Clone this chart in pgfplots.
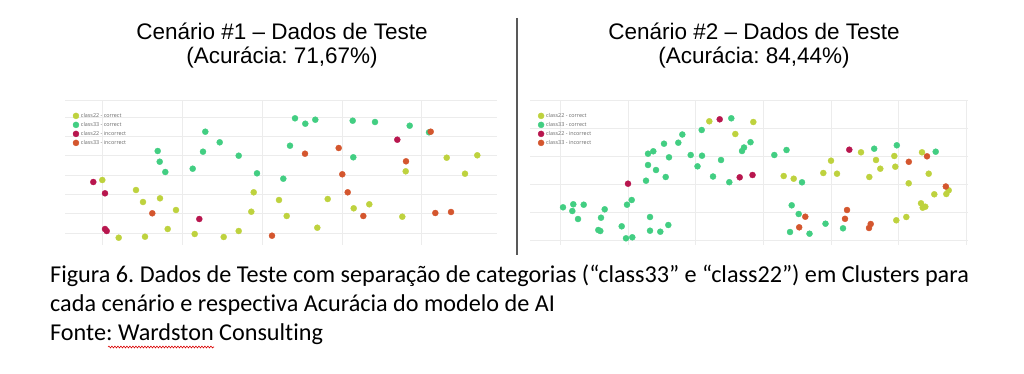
\documentclass[border=0pt]{standalone}
\usepackage{pgfplots}
\pgfplotsset{compat=1.18}
\usepackage{fontspec}
\setmainfont{Liberation Sans}
\newfontfamily\capfont[Ligatures=NoCommon]{Carlito}
\newfontfamily\legfont{Open Sans}
\usetikzlibrary{decorations.pathmorphing}
\frenchspacing
\definecolor{cA}{RGB}{190,210,62}
\definecolor{cB}{RGB}{66,206,130}
\definecolor{cC}{RGB}{184,22,78}
\definecolor{cD}{RGB}{212,86,46}
\definecolor{gridc}{RGB}{236,236,236}
\pgfplotsset{
  panel/.style={
    scale only axis, y dir=reverse,
    axis line style={draw=none},
    tick style={draw=none},
    xticklabels={}, yticklabels={},
    xmajorgrids, ymajorgrids,
    major grid style={gridc, line width=0.6pt},
    clip=false,
    legend style={draw=none, fill=none, font=\legfont\fontsize{5.4}{5.6}\selectfont,
      text=black!60, cells={anchor=west}, inner sep=0pt, row sep=-0.6pt,
      anchor=north west},
    legend cell align=left,
    legend image code/.code={\draw[##1] plot coordinates {(2.5pt,0pt)};},
  },
  ptA/.style={only marks, mark=*, mark size=3pt, mark options={fill=cA, draw=cA}},
  ptB/.style={only marks, mark=*, mark size=3pt, mark options={fill=cB, draw=cB}},
  ptC/.style={only marks, mark=*, mark size=3pt, mark options={fill=cC, draw=cC}},
  ptD/.style={only marks, mark=*, mark size=3pt, mark options={fill=cD, draw=cD}},
}
\begin{document}
\begin{tikzpicture}[x=1pt,y=1pt]
\path (0,0) rectangle (1024,373);
% titles
\node[anchor=base, font=\fontsize{22.5}{26}\selectfont] at (282,333) {Cenário \#1 – Dados de Teste};
\node[anchor=base, font=\fontsize{22.5}{26}\selectfont] at (282,309) {(Acurácia: 71,67\%)};
\node[anchor=base, font=\fontsize{22.5}{26}\selectfont] at (754,333) {Cenário \#2 – Dados de Teste};
\node[anchor=base, font=\fontsize{22.5}{26}\selectfont] at (754,309) {(Acurácia: 84,44\%)};
% divider
\draw[black!65, line width=1.2pt] (517,355) -- (517,118);
% left panel
\begin{axis}[panel, at={(65pt,128pt)}, anchor=south west, width=432pt, height=145pt,
  xmin=65, xmax=497, ymin=100, ymax=245,
  xtick={102,182,262,342,421}, ytick={100,117,136,155.5,175,194,213.5,233},
  legend style={at={(0.018,0.925)}}]
\addplot[ptA] coordinates {(102.3,180) (136,190) (143,202) (160,198.3) (176,210) (167.7,229) (118.7,237.7) (145,236.7) (194.7,234) (253.7,192.3) (279,200) (327.7,199) (251.3,211.7) (286.7,216) (317.3,227.7) (238.7,231) (223.7,237) (405.7,171.3) (446.7,157.7) (477.3,155.3) (465,173.7) (353.7,208.3) (369.3,204.3) (402.3,216.7)};
\addlegendentry{class22 - correct}
\addplot[ptB] coordinates {(205.3,131.7) (157.7,151) (203,151.7) (159.7,161.7) (192.7,168.7) (165.3,172) (219.7,142.3) (238.7,155.7) (295,118.3) (305.3,123.7) (315.3,119.7) (290,145.7) (257,173.3) (283.3,178.7) (352.7,120.7) (375,122) (409.7,125.7) (429,132.3) (353.3,157.3)};
\addlegendentry{class33 - correct}
\addplot[ptC] coordinates {(93.3,182) (105,193.3) (199.3,219) (105,229) (106.7,231) (397.3,139.7)};
\addlegendentry{class22 - incorrect}
\addplot[ptD] coordinates {(152.3,213.3) (305,153.7) (338.7,148) (342.3,174.3) (347.7,192.3) (272,235.7) (430.7,131.7) (406,161.3) (363.3,216) (435.3,213) (451,212)};
\addlegendentry{class33 - incorrect}
\end{axis}
% right panel
\begin{axis}[panel, at={(530pt,128pt)}, anchor=south west, width=438pt, height=145pt,
  xmin=530, xmax=968, ymin=100, ymax=245,
  xtick={560.7,628,695.3,763,831,898.3,966.7}, ytick={100,128,156,184,212,240},
  legend style={at={(0.018,0.925)}}]
\addplot[ptA] coordinates {(709.3,121.3) (735.3,134) (753.3,122) (783.7,176) (793.7,178.7) (861,152.3) (831,160.7) (823.3,173) (837,173.7) (876,160) (880.3,168.7) (869.3,177) (894.3,156) (895.3,166.7) (908.7,183.3) (922,152.3) (928.7,173.7) (896.3,220.3) (906.3,217) (921,203.3) (922.7,207.7) (925.3,206.7) (934.3,194.3) (946.3,194) (948.7,190.3)};
\addlegendentry{class22 - correct}
\addplot[ptB] coordinates {(563,207.3) (573.3,204.3) (583.7,204.7) (572.3,211) (604.7,209.3) (578,219) (601,217.7) (598.3,230) (600.3,231) (621.7,226.3) (626,238.3) (632.3,237.3) (650,217) (650,230.7) (660.3,231.7) (668.3,225) (627,204.7) (631.7,200)
 (664,143.7) (648,153.7) (653.3,151.3) (669,157.3) (648,165) (656,170) (665.7,177) (646,180.7) (678.3,142.7) (682.3,134.5) (701.7,130) (731.3,118.3) (690.7,155) (702,155.7) (697.5,166.3) (721,160) (742,151) (744,147.5) (750.5,142.2) (713,176.5) (729.3,182.2)
 (774.3,155) (786.5,150) (802,182.3) (791.7,205.3) (798.7,214) (790,232) (809.5,233.7) (825.5,223.7) (843,228.3) (874.2,148.7) (896.8,145.3) (935.7,151.7)};
\addlegendentry{class33 - correct}
\addplot[ptC] coordinates {(628,183.7) (719.7,119.3) (739.7,177.3) (752.5,175) (849.3,149.7)};
\addlegendentry{class22 - incorrect}
\addplot[ptD] coordinates {(805.3,216.7) (799.2,227.3) (847,210) (845,218.8) (870.7,224) (869,228) (908.8,161.8) (927,156.3) (945.8,186.5)};
\addlegendentry{class33 - incorrect}
\end{axis}
% caption
\node[anchor=base west, inner sep=0pt, font=\capfont\fontsize{24.2}{28}\selectfont] at (50,91) {Figura 6. Dados de Teste com separação de categorias (“class33” e “class22”) em Clusters para};
\node[anchor=base west, inner sep=0pt, font=\capfont\fontsize{24.2}{28}\selectfont] at (50,62) {cada cenário e respectiva Acurácia do modelo de AI};
\node[anchor=base west, inner sep=0pt, font=\capfont\fontsize{24.2}{28}\selectfont] at (50,33) {Fonte: Wardston Consulting};
\draw[red!85!black, line width=0.6pt, decorate, decoration={snake, amplitude=0.9pt, segment length=3pt}] (108,26) -- (214,26);
\end{tikzpicture}
\end{document}
